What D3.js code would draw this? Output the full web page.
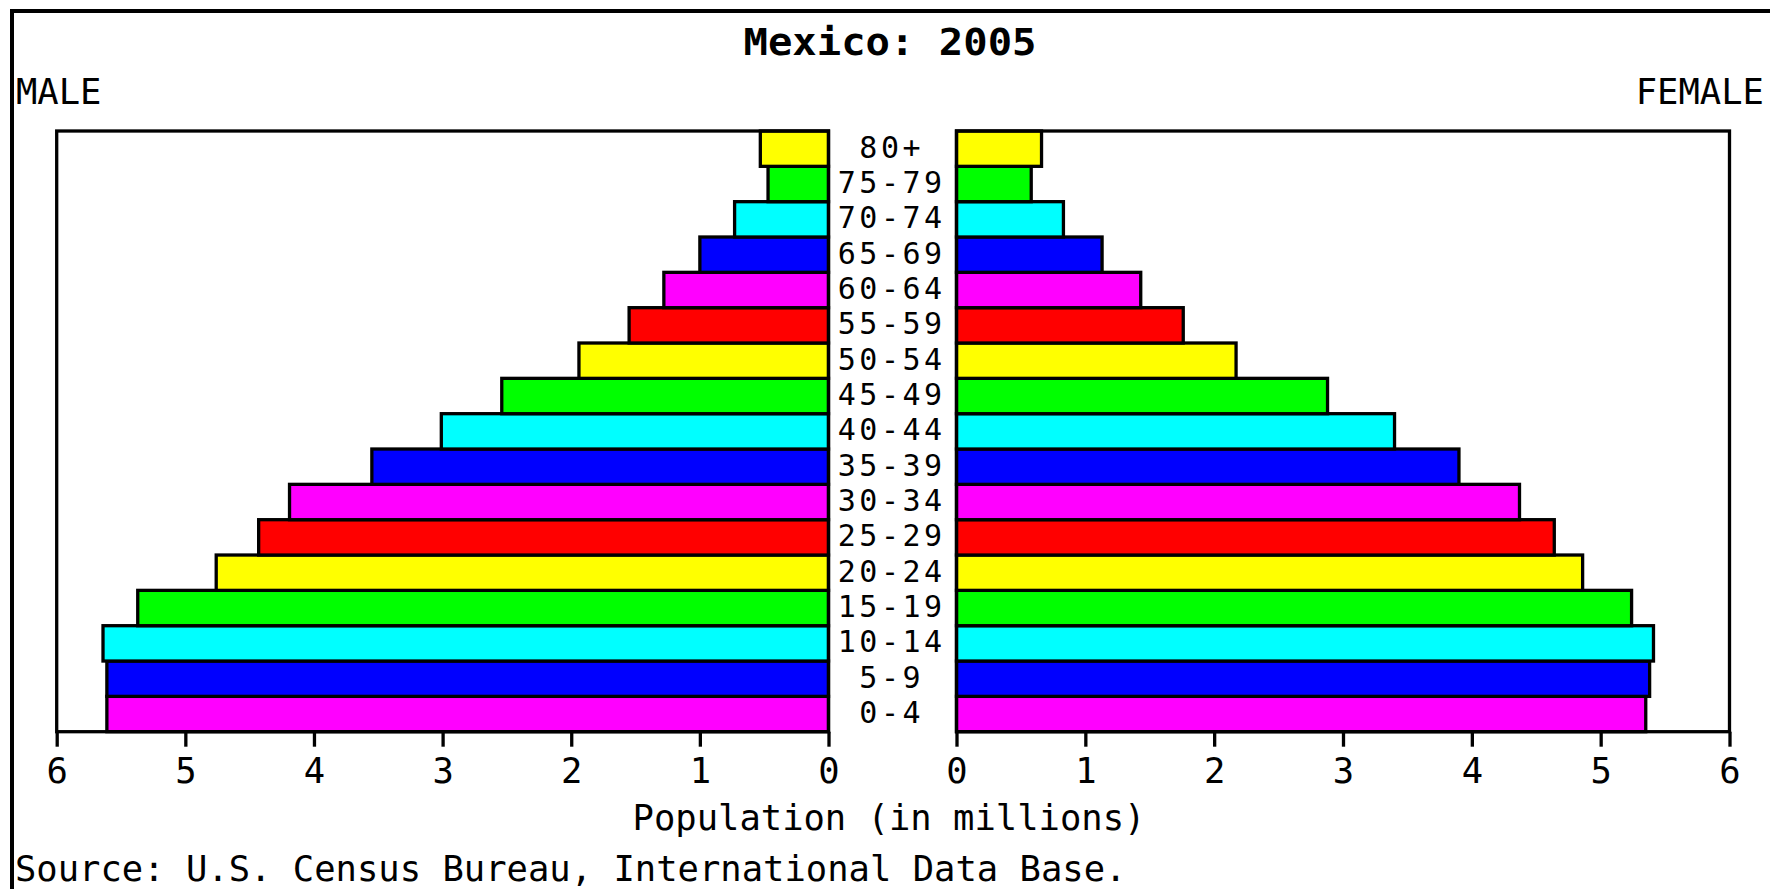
<!DOCTYPE html>
<html>
<head>
<meta charset="utf-8">
<script src="https://cdn.jsdelivr.net/npm/d3@7"></script>
<style>
  html, body { margin: 0; padding: 0; background: #fff; }
  svg { display: block; }
  text { font-family: "DejaVu Sans Mono", "Liberation Mono", monospace; fill: #000; }
</style>
</head>
<body>
<div id="chart"></div>
<script>
// data (millions), bottom row first
var ages = ["0-4", "5-9", "10-14", "15-19", "20-24", "25-29", "30-34", "35-39", "40-44",
            "45-49", "50-54", "55-59", "60-64", "65-69", "70-74", "75-79", "80+"];
var male = [5.61, 5.61, 5.64, 5.37, 4.76, 4.43, 4.19, 3.55, 3.01,
            2.54, 1.94, 1.55, 1.28, 1.00, 0.73, 0.47, 0.53];
var female = [5.35, 5.38, 5.41, 5.24, 4.86, 4.64, 4.37, 3.90, 3.40,
              2.88, 2.17, 1.76, 1.43, 1.13, 0.83, 0.58, 0.66];
var palette = ["#ff00ff", "#0000ff", "#00ffff", "#00ff00", "#ffff00", "#ff0000"];
var tickValues = [0, 1, 2, 3, 4, 5, 6];

var width = 1770, height = 889;
var top_y = 131, bottom_y = 731.7;

var svg = d3.select("#chart").append("svg")
  .attr("width", width)
  .attr("height", height);

// outer frame (left + top only visible)
svg.append("path")
  .attr("d", "M12,889 V11 H1770")
  .attr("fill", "none")
  .attr("stroke", "#000")
  .attr("stroke-width", 4);

// scales
var xMale = d3.scaleLinear().domain([0, 6]).range([828.5, 56.7]);
var xFemale = d3.scaleLinear().domain([0, 6]).range([956.5, 1729.5]);
var y = d3.scaleBand()
  .domain(ages.slice().reverse())
  .range([top_y, bottom_y])
  .padding(0);

var rows = ages.map(function(a, i) {
  return { age: a, m: male[i], f: female[i], color: palette[i % palette.length] };
});

// male bars
svg.append("g").selectAll("rect")
  .data(rows)
  .enter().append("rect")
  .attr("x", function(d) { return xMale(d.m); })
  .attr("y", function(d) { return y(d.age); })
  .attr("width", function(d) { return xMale(0) - xMale(d.m); })
  .attr("height", y.bandwidth())
  .attr("fill", function(d) { return d.color; })
  .attr("stroke", "#000")
  .attr("stroke-width", 3.3);

// female bars
svg.append("g").selectAll("rect")
  .data(rows)
  .enter().append("rect")
  .attr("x", xFemale(0))
  .attr("y", function(d) { return y(d.age); })
  .attr("width", function(d) { return xFemale(d.f) - xFemale(0); })
  .attr("height", y.bandwidth())
  .attr("fill", function(d) { return d.color; })
  .attr("stroke", "#000")
  .attr("stroke-width", 3.3);

// plot frames
[xMale, xFemale].forEach(function(sc) {
  var r = sc.range();
  svg.append("rect")
    .attr("x", Math.min(r[0], r[1]))
    .attr("y", top_y)
    .attr("width", Math.abs(r[1] - r[0]))
    .attr("height", bottom_y - top_y)
    .attr("fill", "none")
    .attr("stroke", "#000")
    .attr("stroke-width", 3.3);
});

// age labels (kept a bit smaller so rows don't collide)
svg.append("g").selectAll("text")
  .data(rows)
  .enter().append("text")
  .attr("x", 891.7)
  .attr("y", function(d) { return y(d.age) + y.bandwidth() / 2 + 9; })
  .attr("text-anchor", "middle")
  .style("font-size", "30px")
  .style("letter-spacing", "3.5px")
  .text(function(d) { return d.age; });

// axes
function drawAxis(sc) {
  var g = svg.append("g")
    .attr("transform", "translate(0," + bottom_y + ")")
    .call(d3.axisBottom(sc).tickValues(tickValues).tickFormat(d3.format("d"))
      .tickSize(15).tickSizeOuter(0).tickPadding(10));
  g.select(".domain").remove();
  g.selectAll(".tick line").attr("stroke", "#000").attr("stroke-width", 3.3);
  g.selectAll(".tick text")
    .attr("font-family", null)
    .style("font-size", "35.5px")
    .attr("dy", null)
    .attr("y", 51.5);
}
drawAxis(xMale);
drawAxis(xFemale);

// titles
svg.append("text")
  .attr("x", 890).attr("y", 55)
  .attr("text-anchor", "middle")
  .attr("textLength", 293)
  .attr("lengthAdjust", "spacingAndGlyphs")
  .style("font-size", "37px")
  .style("font-weight", "bold")
  .text("Mexico: 2005");

svg.append("text")
  .attr("x", 16).attr("y", 104)
  .style("font-size", "35.5px")
  .text("MALE");

svg.append("text")
  .attr("x", 1764).attr("y", 104)
  .attr("text-anchor", "end")
  .style("font-size", "35.5px")
  .text("FEMALE");

svg.append("text")
  .attr("x", 889).attr("y", 830)
  .attr("text-anchor", "middle")
  .style("font-size", "35.5px")
  .text("Population (in millions)");

svg.append("text")
  .attr("x", 15).attr("y", 881)
  .style("font-size", "35.5px")
  .text("Source: U.S. Census Bureau, International Data Base.");
</script>
</body>
</html>
